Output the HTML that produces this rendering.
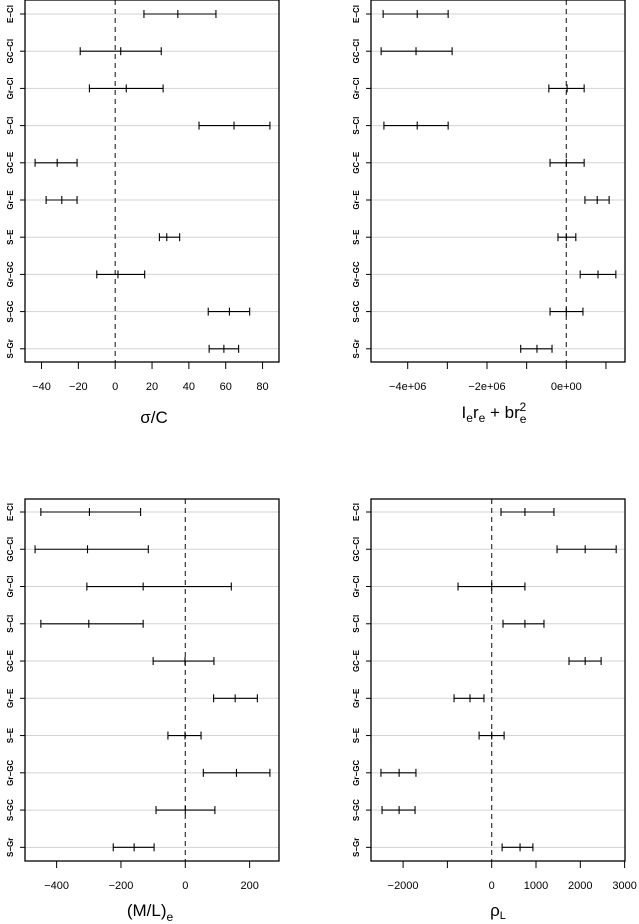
<!DOCTYPE html>
<html><head><meta charset="utf-8"><style>
body{margin:0;background:#fff}
svg{display:block;font-family:"Liberation Sans","DejaVu Sans",sans-serif}
</style></head><body>
<svg id="c" width="639" height="924"></svg>
<script>
const categories=["E\u2212Cl","GC\u2212Cl","Gr\u2212Cl","S\u2212Cl","GC\u2212E","Gr\u2212E","S\u2212E","Gr\u2212GC","S\u2212GC","S\u2212Gr"];
const sigmaLo=[15.6,-19,-14,45.5,-43.5,-37.5,24,-10,50.5,51];
const sigmaMid=[34,3,6,64.5,-31.5,-29,28,1.5,62,59];
const sigmaHi=[54.7,25,26,84,-20.7,-20.7,35,16,73,67];
const ieLo=[-4.62e6,-4.67e6,-0.44e6,-4.6e6,-0.41e6,0.47e6,-0.21e6,0.35e6,-0.41e6,-1.15e6];
const ieMid=[-3.76e6,-3.79e6,0.02e6,-3.76e6,0,0.78e6,0,0.8e6,0,-0.74e6];
const ieHi=[-2.98e6,-2.88e6,0.45e6,-2.98e6,0.45e6,1.08e6,0.24e6,1.25e6,0.42e6,-0.36e6];
const mlLo=[-449,-467,-306,-449,-100,88,-54,56,-91,-224];
const mlMid=[-298,-304,-131,-300,-1,155,-1,159,0,-159];
const mlHi=[-139,-115,143,-131,89,224,49,263,92,-97];
const rhoLo=[210,1475,-760,255,1745,-850,-285,-2500,-2475,235];
const rhoMid=[750,2110,0,750,2110,-490,0,-2090,-2090,640];
const rhoHi=[1405,2810,750,1180,2470,-175,280,-1710,-1730,930];
const sigmaTicks=[-40,-20,0,20,40,60,80];
const sigmaTickLabels=["\u221240","\u221220","0","20","40","60","80"];
const ieTicks=[-4e6,-3e6,-2e6,-1e6,0,1e6];
const ieTickLabels=["\u22124e+06","","\u22122e+06","","0e+00",""];
const mlTicks=[-400,-200,0,200];
const mlTickLabels=["\u2212400","\u2212200","0","200"];
const rhoTicks=[-2000,-1000,0,1000,2000,3000];
const rhoTickLabels=["\u22122000","","0","1000","2000","3000"];

const NS="http://www.w3.org/2000/svg";
const svg=document.getElementById("c");
function mk(tag,attrs,parent){const e=document.createElementNS(NS,tag);for(const k in attrs)e.setAttribute(k,attrs[k]);(parent||svg).appendChild(e);return e;}

function panel(o){
  const g=mk("g",{});
  
  
  const xs=v=>o.x0+(v-o.v0)*o.ppu;
  const ys=i=>o.yTop+i*o.dy;
  categories.forEach((c,i)=>{
    const gl=mk("line",{x1:o.left,x2:o.right,y1:ys(i),y2:ys(i),stroke:"#d3d3d3","stroke-width":1},g);
    
    
    mk("line",{x1:o.left-5,x2:o.left,y1:ys(i),y2:ys(i),stroke:"#000"},g);
    const t=mk("text",{x:0,y:0,"font-size":8,"font-weight":"bold","text-anchor":"middle",transform:`translate(${o.left-12},${ys(i)}) rotate(-90)`},g);
    t.textContent=c;
    
    
  });
  const zl=mk("line",{x1:xs(0),x2:xs(0),y1:o.top,y2:o.bottom,stroke:"#333","stroke-dasharray":"5,4","stroke-width":1.2},g);
  
  
  categories.forEach((c,i)=>{
    const y=ys(i),a=xs(o.lo[i]),m=xs(o.mid[i]),b=xs(o.hi[i]);
    const eb=mk("g",{stroke:"#000","stroke-width":1.1},g);
    
    
    mk("line",{x1:a,x2:b,y1:y,y2:y},eb);
    [a,m,b].forEach(x=>mk("line",{x1:x,x2:x,y1:y-4,y2:y+4},eb));
  });
  const box=mk("rect",{x:o.left,y:o.top,width:o.right-o.left,height:o.bottom-o.top,fill:"none",stroke:"#000","stroke-width":1.3},g);
  
  
  o.ticks.forEach((v,k)=>{
    mk("line",{x1:xs(v),x2:xs(v),y1:o.bottom,y2:o.bottom+7,stroke:"#000"},g);
    if(o.labels[k]){
      const t=mk("text",{x:xs(v),y:o.bottom+28,"font-size":11,"text-anchor":"middle"},g);
      t.textContent=o.labels[k];
      
      
    }
  });
  const tt=mk("text",{x:(o.left+o.right)/2+o.tdx,y:o.bottom+o.tdy,"font-size":17,"text-anchor":"middle"},g);
  tt.innerHTML=o.title;
  
  
}
panel({name:"panel-sigma-c",left:25,right:279,top:0,bottom:362,x0:115.2,v0:0,ppu:1.842,yTop:14,dy:37.2,lo:sigmaLo,mid:sigmaMid,hi:sigmaHi,ticks:sigmaTicks,labels:sigmaTickLabels,title:"σ/C",tdx:2,tdy:61});
panel({name:"panel-ie-re",left:371,right:625,top:0,bottom:362,x0:566.3,v0:0,ppu:39.65e-6,yTop:14,dy:37.2,lo:ieLo,mid:ieMid,hi:ieHi,ticks:ieTicks,labels:ieTickLabels,title:'I<tspan font-size="12" dy="4">e</tspan><tspan dy="-4">r</tspan><tspan font-size="12" dy="4">e</tspan><tspan dy="-4"> + br</tspan><tspan font-size="12" dy="5">e</tspan><tspan font-size="12" dx="-7" dy="-12">2</tspan>',tdx:-4,tdy:56});
panel({name:"panel-ml",left:25,right:279,top:499,bottom:861,x0:185.3,v0:0,ppu:0.3217,yTop:512,dy:37.26,lo:mlLo,mid:mlMid,hi:mlHi,ticks:mlTicks,labels:mlTickLabels,title:'(M/L)<tspan font-size="12" dy="5">e</tspan>',tdx:-2,tdy:55});
panel({name:"panel-rho",left:371,right:625,top:499,bottom:861,x0:491.7,v0:0,ppu:0.0443,yTop:512,dy:37.26,lo:rhoLo,mid:rhoMid,hi:rhoHi,ticks:rhoTicks,labels:rhoTickLabels,title:'ρ<tspan font-size="11" dy="3">L</tspan>',tdx:0,tdy:55});
</script>
</body></html>
